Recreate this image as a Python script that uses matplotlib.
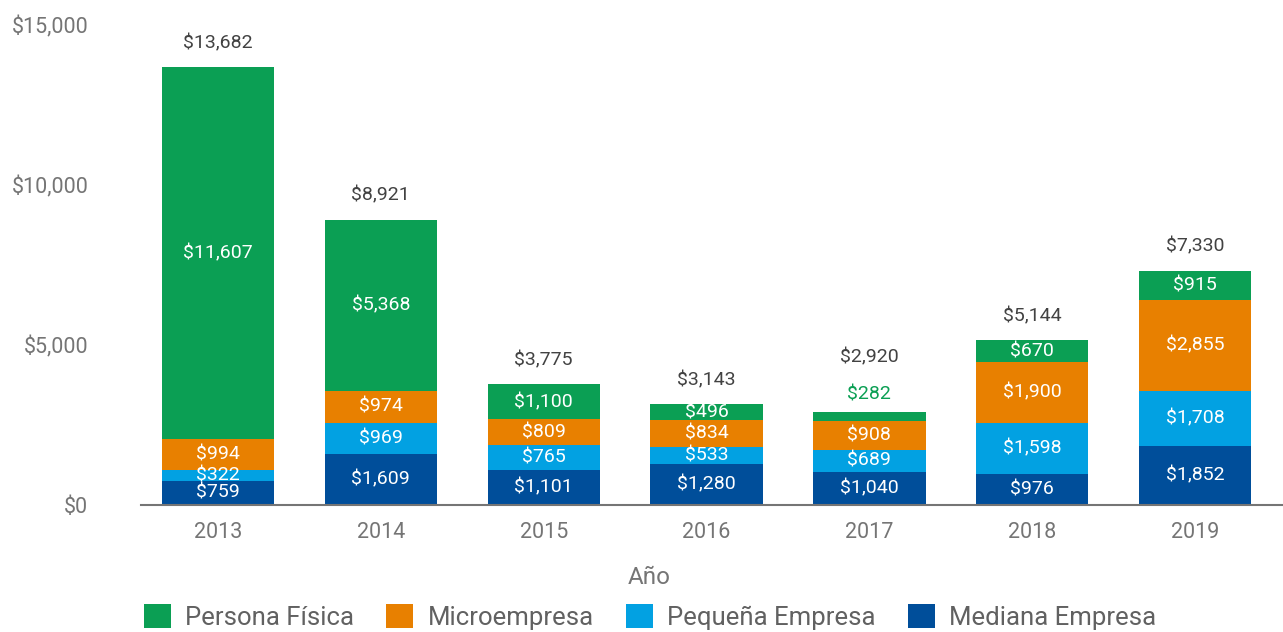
import matplotlib
matplotlib.use("Agg")
import matplotlib.pyplot as plt
import numpy as np

years = ["2013", "2014", "2015", "2016", "2017", "2018", "2019"]
mediana = [759, 1609, 1101, 1280, 1040, 976, 1852]
pequena = [322, 969, 765, 533, 689, 1598, 1708]
micro = [994, 974, 809, 834, 908, 1900, 2855]
persona = [11607, 5368, 1100, 496, 282, 670, 915]
totals = [13682, 8921, 3775, 3143, 2920, 5144, 7330]

series_names = ["Mediana Empresa", "Pequeña Empresa", "Microempresa", "Persona Física"]
colors = ["#004e9a", "#02a1e2", "#e88000", "#0b9f54"]

plt.rcParams['font.family'] = ['Roboto', 'DejaVu Sans']

fig = plt.figure(figsize=(12.83, 6.32), dpi=100)
ax = fig.add_axes([0.110, 0.201, 0.890, 0.759])

x = np.arange(len(years))
width = 0.69
bottom = np.zeros(len(years))
bars = {}
all_series = [mediana, pequena, micro, persona]
for k, (name, vals, c) in enumerate(zip(series_names, all_series, colors)):
    vals = np.array(vals, dtype=float)
    bars[name] = ax.bar(x, vals, width, bottom=bottom, color=c, label=name, zorder=2)
    is_top = (k == len(all_series) - 1)
    for i, v in enumerate(vals):
        if is_top and v < 400:
            ax.text(x[i], bottom[i] + v + 250, f"${int(v):,}", ha="center", va="bottom",
                    color=c, fontsize=14, zorder=3)
        else:
            ax.text(x[i], bottom[i] + v / 2, f"${int(v):,}", ha="center", va="center",
                    color="white", fontsize=14, zorder=3)
    bottom += vals

for i, t in enumerate(totals):
    extra = 950 if persona[i] < 400 else 0
    ax.text(x[i], bottom[i] + 480 + extra, f"${t:,}", ha="center", va="bottom",
            color="#424242", fontsize=14)

ax.set_xlim(-0.472, len(years) - 1 + 0.54)
ax.set_ylim(0, 15000)
ax.set_yticks([0, 5000, 10000, 15000])
ax.set_yticklabels(["$0", "$5,000", "$10,000", "$15,000"])
ax.set_xticks(x)
ax.set_xticklabels(years)
ax.tick_params(axis="y", length=0, pad=38, labelsize=15.5, labelcolor="#757575")
ax.tick_params(axis="x", length=0, pad=12, labelsize=15.5, labelcolor="#757575")
for s in ["top", "right", "left"]:
    ax.spines[s].set_visible(False)
ax.spines["bottom"].set_color("#757575")
ax.spines["bottom"].set_linewidth(1.5)

fig.text(649 / 1283, 1 - 577 / 632, "Año", ha="center", va="center",
         fontsize=17.5, color="#757575")

order = ["Persona Física", "Microempresa", "Pequeña Empresa", "Mediana Empresa"]
handles = [bars[n] for n in order]
leg = fig.legend(handles, order, loc="center", bbox_to_anchor=(650 / 1283, 1 - 617 / 632),
                 ncol=4, frameon=False, fontsize=18.5, handlelength=1.05, handleheight=1.05,
                 handletextpad=0.55, columnspacing=1.25, borderaxespad=0, borderpad=0.1)
for t in leg.get_texts():
    t.set_color("#616161")

fig.savefig("out.png", dpi=100)
